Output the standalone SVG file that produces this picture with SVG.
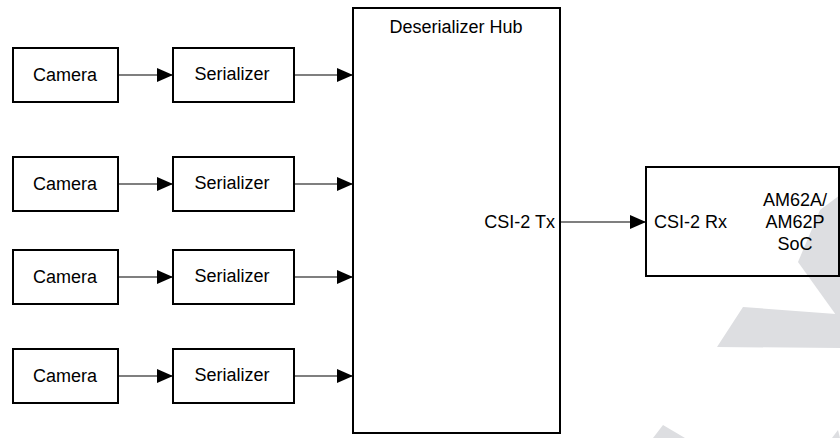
<svg xmlns="http://www.w3.org/2000/svg" width="840" height="438" viewBox="0 0 840 438">
  <defs>
    <marker id="arrow" markerUnits="userSpaceOnUse" markerWidth="16" markerHeight="14" refX="16" refY="7" orient="auto">
      <path d="M0,0 L16,7 L0,14 Z" fill="#000"/>
    </marker>
    <style>
      .box { fill: none; stroke: #000; stroke-width: 2; }
      .conn { stroke: #000; stroke-width: 1.2; fill: none; marker-end: url(#arrow); }
      .lbl { font-family: "Liberation Sans", Arial, sans-serif; font-size: 18px; fill: #000; }
      .mid { text-anchor: middle; }
      .wm { fill: #dddee1; stroke: none; }
    </style>
  </defs>
  <rect width="840" height="438" fill="#fff"/>

  <g id="watermark">
    <polygon class="wm" points="840,195 820,210 798,262 836,315 840,315"/>
    <polygon class="wm" points="743,307 836,314 840,314 840,348 717,347"/>
    <polygon class="wm" points="663,425 653,438 685,438"/>
    <polygon class="wm" points="838,430 832,438 840,438"/>
  </g>

  <g id="connectors">
    <line class="conn" x1="118" y1="75" x2="173" y2="75"/>
    <line class="conn" x1="294" y1="75" x2="353" y2="75"/>
    <line class="conn" x1="118" y1="184" x2="173" y2="184"/>
    <line class="conn" x1="294" y1="184" x2="353" y2="184"/>
    <line class="conn" x1="118" y1="277" x2="173" y2="277"/>
    <line class="conn" x1="294" y1="277" x2="353" y2="277"/>
    <line class="conn" x1="118" y1="376" x2="173" y2="376"/>
    <line class="conn" x1="294" y1="376" x2="353" y2="376"/>
    <line class="conn" x1="560" y1="222" x2="646" y2="222"/>
  </g>

  <g id="camera1">
    <rect class="box" x="13" y="48" width="105" height="54"/>
    <text class="lbl mid" x="65" y="81">Camera</text>
  </g>
  <g id="serializer1">
    <rect class="box" x="173" y="48" width="121" height="54"/>
    <text class="lbl mid" x="232" y="80">Serializer</text>
  </g>
  <g id="camera2">
    <rect class="box" x="13" y="157" width="105" height="54"/>
    <text class="lbl mid" x="65" y="190">Camera</text>
  </g>
  <g id="serializer2">
    <rect class="box" x="173" y="157" width="121" height="54"/>
    <text class="lbl mid" x="232" y="189">Serializer</text>
  </g>
  <g id="camera3">
    <rect class="box" x="13" y="250" width="105" height="54"/>
    <text class="lbl mid" x="65" y="283">Camera</text>
  </g>
  <g id="serializer3">
    <rect class="box" x="173" y="250" width="121" height="54"/>
    <text class="lbl mid" x="232" y="282">Serializer</text>
  </g>
  <g id="camera4">
    <rect class="box" x="13" y="349" width="105" height="54"/>
    <text class="lbl mid" x="65" y="382">Camera</text>
  </g>
  <g id="serializer4">
    <rect class="box" x="173" y="349" width="121" height="54"/>
    <text class="lbl mid" x="232" y="381">Serializer</text>
  </g>

  <g id="deserializer-hub">
    <rect class="box" x="353" y="8" width="207" height="425"/>
    <text class="lbl mid" x="456" y="33">Deserializer Hub</text>
    <text class="lbl" x="555" y="228" text-anchor="end">CSI-2 Tx</text>
  </g>

  <g id="soc">
    <rect class="box" x="646" y="167" width="193" height="109"/>
    <text class="lbl" x="654" y="228">CSI-2 Rx</text>
    <text class="lbl mid" x="795" y="206">AM62A/</text>
    <text class="lbl mid" x="795" y="228">AM62P</text>
    <text class="lbl mid" x="795" y="250">SoC</text>
  </g>
</svg>
